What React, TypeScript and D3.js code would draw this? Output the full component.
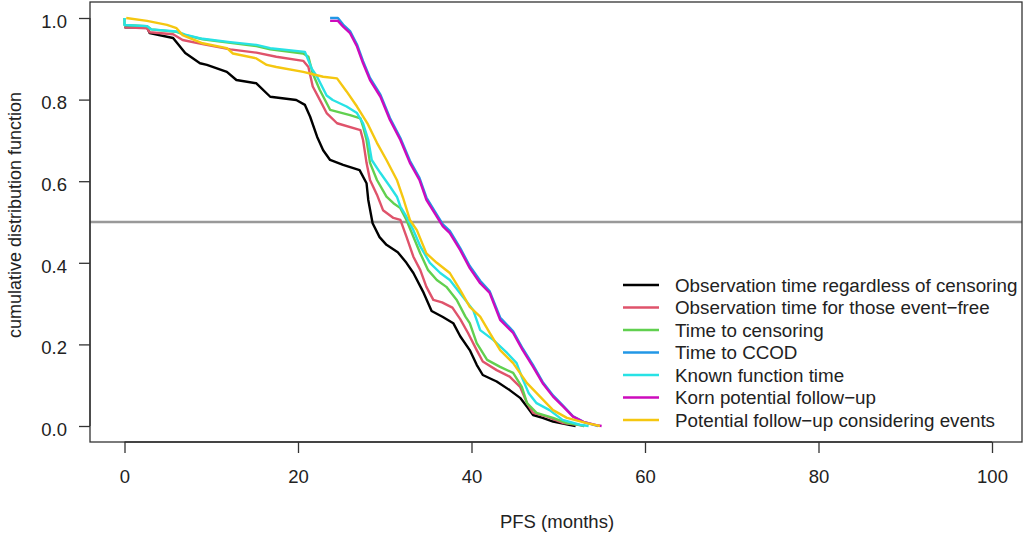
import { useRef, useEffect } from "react";
import * as d3 from "d3";

type Pt = [number, number];

const blackObs: Pt[] = [
  [0, 0.977], [2.6, 0.977], [2.9, 0.963], [5.6, 0.951], [7.0, 0.914], [8.7, 0.889], [9.5, 0.885],
  [11.8, 0.868], [12.9, 0.848], [15.2, 0.84], [16.8, 0.807], [19.8, 0.799], [20.8, 0.787],
  [21.4, 0.758], [22.2, 0.709], [22.9, 0.676], [23.7, 0.652], [25.2, 0.64], [27.1, 0.627],
  [27.9, 0.595], [28.1, 0.554], [28.6, 0.497], [29.4, 0.463], [30.2, 0.444], [31.5, 0.426],
  [32.5, 0.4], [33.3, 0.375], [34.4, 0.33], [35.4, 0.282], [36.7, 0.267], [37.9, 0.252],
  [38.7, 0.22], [39.8, 0.186], [40.6, 0.15], [41.3, 0.125], [42.9, 0.109], [44.4, 0.088],
  [45.6, 0.069], [46.4, 0.047], [47.1, 0.027], [48.2, 0.02], [49.4, 0.011], [51.4, 0.002], [52, 0],
];

const redEventFree: Pt[] = [
  [0, 0.977], [2.6, 0.975], [2.9, 0.965], [5.6, 0.96], [6.7, 0.946], [9.0, 0.936], [12.2, 0.923],
  [15.2, 0.915], [17.5, 0.905], [20.6, 0.895], [21.2, 0.88], [21.7, 0.832], [22.5, 0.8],
  [23.3, 0.767], [24.5, 0.742], [27.2, 0.725], [27.5, 0.701], [27.9, 0.645], [28.3, 0.603],
  [29.1, 0.567], [29.8, 0.529], [31.0, 0.51], [31.8, 0.505], [32.5, 0.464], [33.3, 0.415],
  [34.1, 0.382], [34.8, 0.341], [35.6, 0.309], [36.6, 0.303], [37.8, 0.29], [38.7, 0.262],
  [39.6, 0.228], [40.6, 0.186], [41.3, 0.158], [42.9, 0.137], [44.4, 0.121], [45.6, 0.096],
  [46.4, 0.056], [47.1, 0.032], [48.7, 0.023], [50.6, 0.007], [52.5, 0.002], [53, 0],
];

const greenCensor: Pt[] = [
  [0, 1.0], [0, 0.983], [2.6, 0.98], [3.1, 0.972], [6.0, 0.966], [7.0, 0.958], [9.0, 0.948],
  [12.2, 0.939], [15.2, 0.931], [16.8, 0.923], [20.6, 0.913], [21.2, 0.905], [21.7, 0.864],
  [22.5, 0.824], [23.7, 0.775], [26.0, 0.762], [27.2, 0.754], [27.5, 0.734], [27.9, 0.701],
  [28.3, 0.645], [29.1, 0.603], [30.2, 0.562], [31.0, 0.546], [31.8, 0.534], [32.5, 0.505],
  [33.3, 0.464], [34.1, 0.423], [35.0, 0.382], [36.0, 0.358], [37.1, 0.341], [38.3, 0.309],
  [39.3, 0.268], [39.8, 0.252], [40.6, 0.203], [41.8, 0.162], [43.3, 0.145], [44.8, 0.13],
  [45.8, 0.096], [46.4, 0.056], [47.5, 0.032], [49.4, 0.02], [51.0, 0.007], [52.5, 0.002], [53, 0],
];

const blueCcod: Pt[] = [
  [23.7, 1.0], [24.6, 1.0], [25.2, 0.984], [26.0, 0.968], [26.8, 0.935], [27.5, 0.894],
  [28.3, 0.853], [29.5, 0.812], [30.6, 0.755], [31.8, 0.706], [32.9, 0.65], [34.0, 0.608],
  [34.8, 0.56], [36.0, 0.518], [36.7, 0.494], [37.5, 0.478], [38.7, 0.436], [39.8, 0.392],
  [41.0, 0.356], [42.1, 0.33], [43.3, 0.266], [44.8, 0.232], [45.9, 0.19], [47.1, 0.149],
  [48.2, 0.108], [49.4, 0.075], [50.6, 0.049], [51.7, 0.024], [52.9, 0.01], [54.2, 0.002], [54.6, 0],
];

const cyanKnown: Pt[] = [
  [0, 1.0], [0, 0.983], [2.6, 0.98], [3.1, 0.972], [6.0, 0.967], [7.0, 0.959], [9.0, 0.949],
  [12.2, 0.941], [15.2, 0.934], [16.8, 0.926], [20.8, 0.917], [21.6, 0.875], [22.2, 0.856],
  [23.3, 0.81], [24.0, 0.799], [25.6, 0.783], [26.8, 0.767], [27.5, 0.742], [28.1, 0.701],
  [28.5, 0.652], [29.5, 0.62], [30.6, 0.587], [31.4, 0.562], [31.8, 0.538], [32.5, 0.513],
  [33.3, 0.48], [34.1, 0.44], [35.2, 0.4], [36.4, 0.375], [37.5, 0.358], [39.0, 0.317],
  [40.2, 0.284], [41.0, 0.235], [42.5, 0.211], [44.1, 0.179], [45.2, 0.154], [45.8, 0.12],
  [46.6, 0.08], [47.5, 0.056], [49.0, 0.039], [50.5, 0.015], [52.5, 0.003], [53.5, 0],
];

const magentaKorn: Pt[] = [
  [23.7, 0.993], [24.6, 0.993], [25.2, 0.979], [26.0, 0.963], [26.8, 0.93], [27.5, 0.889],
  [28.3, 0.848], [29.5, 0.807], [30.6, 0.75], [31.8, 0.701], [32.9, 0.645], [34.0, 0.603],
  [34.8, 0.554], [36.0, 0.513], [36.7, 0.489], [37.5, 0.473], [38.7, 0.431], [39.8, 0.387],
  [41.0, 0.35], [42.1, 0.326], [43.3, 0.26], [44.8, 0.228], [45.9, 0.186], [47.1, 0.145],
  [48.2, 0.105], [49.4, 0.072], [50.6, 0.047], [51.7, 0.023], [52.9, 0.01], [54.4, 0.002], [55, 0],
];

const yellowPotential: Pt[] = [
  [0.2, 1.0], [2.6, 0.993], [4.9, 0.983], [6.0, 0.975], [6.7, 0.958], [9.0, 0.938],
  [11.8, 0.926], [12.5, 0.913], [15.2, 0.901], [16.4, 0.885], [17.5, 0.88], [20.6, 0.868],
  [22.9, 0.856], [24.5, 0.852], [25.6, 0.82], [26.8, 0.783], [28.0, 0.742], [29.1, 0.694],
  [30.2, 0.652], [31.4, 0.603], [32.1, 0.56], [32.9, 0.505], [33.7, 0.48], [34.8, 0.423],
  [36.0, 0.4], [37.5, 0.375], [38.7, 0.333], [39.8, 0.292], [41.0, 0.268], [42.1, 0.228],
  [43.3, 0.186], [44.8, 0.154], [46.4, 0.105], [47.9, 0.072], [49.4, 0.039], [51.0, 0.02],
  [53.3, 0.007], [54.8, 0],
];

const seriesNames = [
  "Observation time regardless of censoring",
  "Observation time for those event\u2212free",
  "Time to censoring",
  "Time to CCOD",
  "Known function time",
  "Korn potential follow\u2212up",
  "Potential follow\u2212up considering events",
];
const seriesColors = ["#000000", "#DF536B", "#61D04F", "#2297E6", "#28E2E5", "#CD0BBC", "#F5C710"];
const seriesData = [blackObs, redEventFree, greenCensor, blueCcod, cyanKnown, magentaKorn, yellowPotential];

const xTicks = [0, 20, 40, 60, 80, 100];
const yTicks = [0, 0.2, 0.4, 0.6, 0.8, 1.0];

const W = 1024;
const H = 533;
const frame = { left: 90, right: 1022, top: 2, bottom: 442 };
const font = "'Liberation Sans', Arial, Helvetica, sans-serif";
const fs = 18.5;
const legendFs = 18.8;

const App = () => {
  const svgRef = useRef<SVGSVGElement>(null);

  useEffect(() => {
    const svg = d3.select(svgRef.current);
    svg.selectAll("*").remove();

    const x = d3.scaleLinear().domain([0, 100]).range([124.5, 992]);
    const y = d3.scaleLinear().domain([0, 1]).range([426, 18]);

    // reference line at 0.5
    svg.append("line")
      .attr("x1", frame.left).attr("x2", frame.right)
      .attr("y1", y(0.5)).attr("y2", y(0.5))
      .attr("stroke", "#999999").attr("stroke-width", 2.5);

    const line = d3.line<Pt>().x((d) => x(d[0])).y((d) => y(d[1]));

    seriesData.forEach((data, i) => {
      svg.append("path")
        .attr("d", line(data))
        .attr("fill", "none")
        .attr("stroke", seriesColors[i])
        .attr("stroke-width", 2.4)
        .attr("stroke-linejoin", "round");
    });

    svg.append("rect")
      .attr("x", frame.left).attr("y", frame.top)
      .attr("width", frame.right - frame.left).attr("height", frame.bottom - frame.top)
      .attr("fill", "none").attr("stroke", "#333").attr("stroke-width", 1.3);

    const xAxis = svg.append("g")
      .attr("transform", `translate(0,${frame.bottom})`)
      .call(d3.axisBottom(x).tickValues(xTicks).tickSize(11).tickPadding(17).tickFormat(d3.format("d")));
    xAxis.select(".domain").attr("d", `M${x(0)},0H${x(100)}`).attr("stroke", "#333").attr("stroke-width", 1.3);
    xAxis.selectAll(".tick line").attr("stroke", "#333").attr("stroke-width", 1.3);
    xAxis.selectAll("text").attr("font-size", fs).attr("font-family", font).attr("fill", "#222");

    const yAxis = svg.append("g")
      .attr("transform", `translate(${frame.left},0)`)
      .call(d3.axisLeft(y).tickValues(yTicks).tickSize(11).tickPadding(12).tickFormat(d3.format(".1f")));
    yAxis.select(".domain").attr("d", `M0,${y(0)}V${y(1)}`).attr("stroke", "#333").attr("stroke-width", 1.3);
    yAxis.selectAll(".tick line").attr("stroke", "#333").attr("stroke-width", 1.3);
    yAxis.selectAll("text").attr("font-size", fs).attr("font-family", font).attr("fill", "#222")
      .attr("dy", "0.5em");

    svg.append("text")
      .attr("x", 557).attr("y", 528)
      .attr("text-anchor", "middle").attr("font-size", fs).attr("font-family", font).attr("fill", "#222")
      .text("PFS (months)");

    svg.append("text")
      .attr("transform", `translate(21,${y(0.5) - 7}) rotate(-90)`)
      .attr("text-anchor", "middle").attr("font-size", 18).attr("font-family", font).attr("fill", "#222")
      .text("cumulative distribution function");

    const legend = svg.append("g").attr("transform", "translate(623,285)");
    seriesNames.forEach((name, i) => {
      const row = legend.append("g").attr("transform", `translate(0,${i * 22.5})`);
      row.append("line").attr("x1", 0).attr("x2", 36).attr("y1", 0).attr("y2", 0)
        .attr("stroke", seriesColors[i]).attr("stroke-width", 2.4);
      row.append("text").attr("x", 52).attr("y", 0).attr("dy", "0.36em")
        .attr("font-size", legendFs).attr("font-family", font).attr("fill", "#222")
        .text(name);
    });
  }, []);

  return (
    <div style={{ position: "absolute", left: 0, top: 0 }}>
      <svg ref={svgRef} width={W} height={H} style={{ display: "block", background: "#fff" }}></svg>
    </div>
  );
};

export default App;
